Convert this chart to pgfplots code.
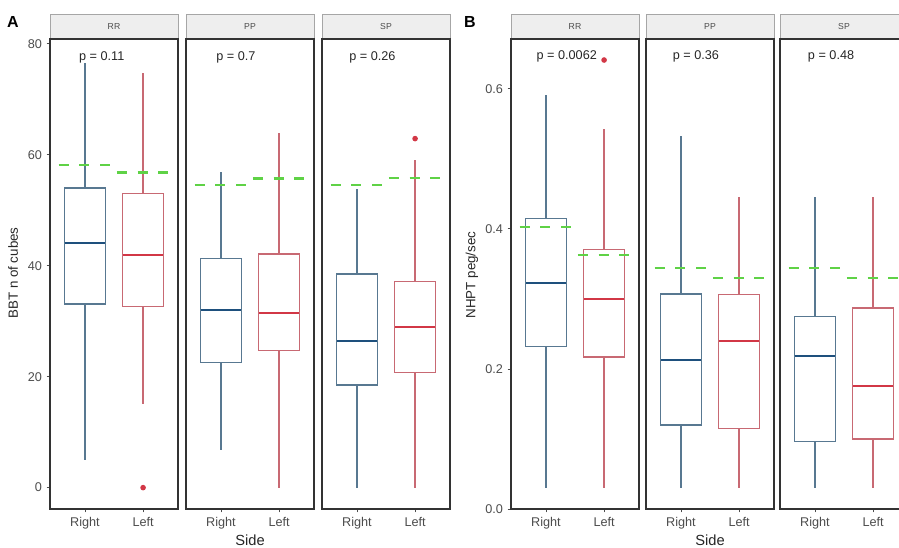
\documentclass[border=0pt]{standalone}
\usepackage{fontspec}
\setmainfont{Liberation Sans}
\usepackage{pgfplots}
\pgfplotsset{compat=1.18}
\usepgfplotslibrary{statistics}

\definecolor{rline}{RGB}{88,120,145}
\definecolor{rmed}{RGB}{30,80,125}
\definecolor{lline}{RGB}{200,105,115}
\definecolor{lmed}{RGB}{210,55,70}
\definecolor{gdash}{RGB}{95,210,70}
\definecolor{stripfill}{RGB}{238,238,238}

\def\u{0.75pt}

\tikzset{ptext/.style={anchor=west, font=\fontsize{9.5}{11}\selectfont, text=black!85}}

\pgfplotsset{
  facet/.style={scale only axis, width=96pt, height=352.5pt,
    xmin=0.4, xmax=2.6, xtick={1,2}, xticklabels={Right,Left},
    tick align=outside, tick pos=left, major tick length=2.5pt,
    axis line style={black!80, line width=0.8pt},
    every tick/.style={black!70, line width=0.6pt},
    tick label style={font=\fontsize{9.5}{11}\selectfont, text=black!70},
    /pgf/number format/assume math mode=true, clip=false},
  panelA/.style={facet, ymin=-3.85, ymax=80.85},
  panelB/.style={facet, ymin=0, ymax=0.671},
  rbox/.style={draw=rline, fill=white, line width=0.95pt, solid,
    boxplot/every median/.style={draw=rmed, line width=1.5pt},
    mark=*, mark size=1.6pt, mark options={draw=lmed, fill=lmed}},
  lbox/.style={draw=lline, fill=white, line width=0.95pt, solid,
    boxplot/every median/.style={draw=lmed, line width=1.5pt},
    mark=*, mark size=1.6pt, mark options={draw=lmed, fill=lmed}},
  gline/.style={draw=gdash, line width=1.6pt, dash pattern=on 7.5pt off 8pt, forget plot},
}

% style, position, lower whisker, Q1, median, Q3, upper whisker, outliers
\newcommand{\bx}[8]{%
  \addplot[#1, boxplot prepared={draw direction=y, draw position=#2, lower whisker=#3,
    lower quartile=#4, median=#5, upper quartile=#6, upper whisker=#7,
    box extend=0.7, whisker extend=0}] coordinates {#8};}

\begin{document}
\begin{tikzpicture}
\path[use as bounding box] (0,0) rectangle (899*\u,-548*\u);

% strips
\foreach \xa/\lab in {50/RR,186/PP,322/SP,511/RR,646/PP,780/SP}{
  \draw[fill=stripfill, draw=black!35, line width=0.6pt]
    (\xa*\u,-14*\u) rectangle ({(\xa+128)*\u},-39*\u);
  \node[font=\fontsize{6.5}{8}\selectfont, text=black!70] at ({(\xa+64)*\u},-27*\u) {\lab};
}

% ---- panel A: BBT
\begin{axis}[panelA, at={(50*\u,-509*\u)}, anchor=south west, ytick={0,20,40,60,80}]
\bx{rbox}{1}{5.0}{33.1}{44.0}{54.0}{76.6}{}
\bx{lbox}{2}{15.0}{32.7}{41.9}{53.0}{74.7}{(2,0)}
\addplot[gline] coordinates {(0.55,58.2) (1.45,58.2)};
\addplot[gline] coordinates {(1.55,56.8) (2.45,56.8)};
\node[ptext] at (axis cs:0.82,77.5) {p = 0.11};
\end{axis}

\begin{axis}[panelA, at={(186*\u,-509*\u)}, anchor=south west, ytick=\empty]
\bx{rbox}{1}{6.8}{22.5}{32.0}{41.3}{56.9}{}
\bx{lbox}{2}{0}{24.7}{31.5}{42.1}{63.9}{}
\addplot[gline] coordinates {(0.55,54.5) (1.45,54.5)};
\addplot[gline] coordinates {(1.55,55.7) (2.45,55.7)};
\node[ptext] at (axis cs:0.84,77.5) {p = 0.7};
\end{axis}

\begin{axis}[panelA, at={(322*\u,-509*\u)}, anchor=south west, ytick=\empty]
\bx{rbox}{1}{0}{18.5}{26.5}{38.5}{53.9}{}
\bx{lbox}{2}{0}{20.7}{29.0}{37.1}{59.0}{(2,62.9)}
\addplot[gline] coordinates {(0.55,54.5) (1.45,54.5)};
\addplot[gline] coordinates {(1.55,55.8) (2.45,55.8)};
\node[ptext] at (axis cs:0.79,77.5) {p = 0.26};
\end{axis}

% ---- panel B: NHPT
\begin{axis}[panelB, at={(511*\u,-509*\u)}, anchor=south west, ytick={0,0.2,0.4,0.6},
  yticklabel style={/pgf/number format/fixed, /pgf/number format/fixed zerofill, /pgf/number format/precision=1}]
\bx{rbox}{1}{0.03}{0.232}{0.323}{0.415}{0.591}{}
\bx{lbox}{2}{0.03}{0.217}{0.300}{0.370}{0.542}{(2,0.641)}
\addplot[gline] coordinates {(0.55,0.402) (1.45,0.402)};
\addplot[gline] coordinates {(1.55,0.363) (2.45,0.363)};
\node[ptext] at (axis cs:0.76,0.646) {p = 0.0062};
\end{axis}

\begin{axis}[panelB, at={(646*\u,-509*\u)}, anchor=south west, ytick=\empty]
\bx{rbox}{1}{0.03}{0.120}{0.213}{0.307}{0.533}{}
\bx{lbox}{2}{0.03}{0.115}{0.240}{0.306}{0.445}{}
\addplot[gline] coordinates {(0.55,0.344) (1.45,0.344)};
\addplot[gline] coordinates {(1.55,0.330) (2.45,0.330)};
\node[ptext] at (axis cs:0.78,0.646) {p = 0.36};
\end{axis}

\begin{axis}[panelB, at={(780*\u,-509*\u)}, anchor=south west, ytick=\empty]
\bx{rbox}{1}{0.03}{0.096}{0.218}{0.275}{0.445}{}
\bx{lbox}{2}{0.03}{0.100}{0.176}{0.287}{0.445}{}
\addplot[gline] coordinates {(0.55,0.344) (1.45,0.344)};
\addplot[gline] coordinates {(1.55,0.330) (2.45,0.330)};
\node[ptext] at (axis cs:0.80,0.646) {p = 0.48};
\end{axis}

% labels
\node[font=\bfseries\fontsize{12}{14}\selectfont] at (13*\u,-22*\u) {A};
\node[font=\bfseries\fontsize{12}{14}\selectfont] at (470*\u,-22*\u) {B};
\node[rotate=90, font=\fontsize{10}{12}\selectfont, text=black!85] at (13*\u,-273*\u) {BBT n of cubes};
\node[rotate=90, font=\fontsize{10}{12}\selectfont, text=black!85] at (472*\u,-275*\u) {NHPT peg/sec};
\node[font=\fontsize{11}{13}\selectfont, text=black!85] at (250*\u,-540*\u) {Side};
\node[font=\fontsize{11}{13}\selectfont, text=black!85] at (710*\u,-540*\u) {Side};
\end{tikzpicture}
\end{document}
